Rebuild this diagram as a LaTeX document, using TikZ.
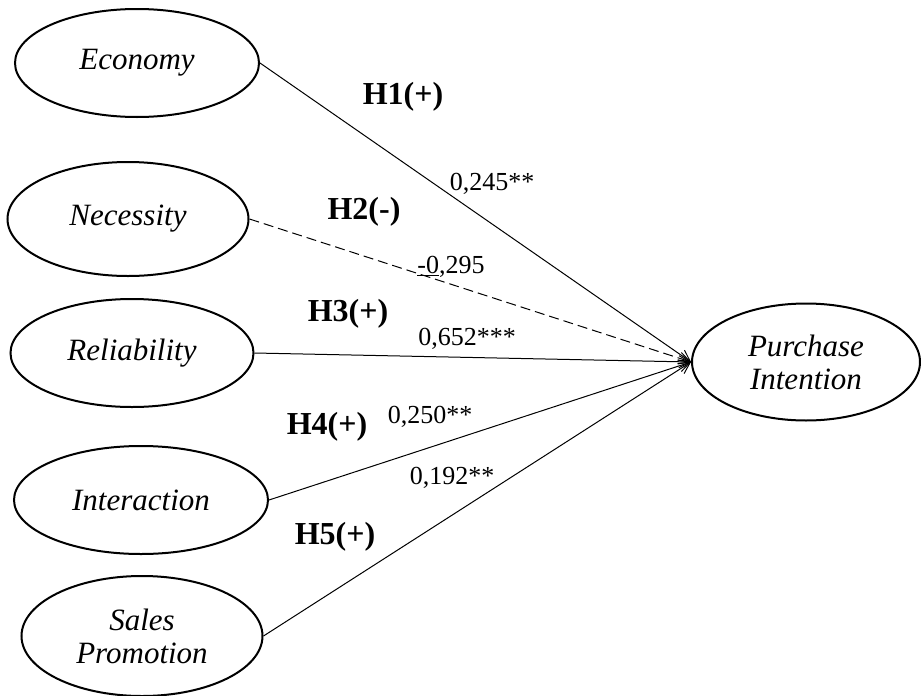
\documentclass[tikz,border=0pt]{standalone}
\usepackage{fontspec}
\setmainfont{Liberation Serif}
\usetikzlibrary{shapes.geometric,arrows.meta}
\tikzset{
  construct/.style={ellipse,draw,line width=2pt,inner sep=0pt,align=center,
    font=\fontsize{31}{33}\selectfont\itshape},
  hyp/.style={font=\fontsize{32}{34}\selectfont\bfseries},
  coef/.style={font=\fontsize{26}{28}\selectfont},
  path/.style={line width=1pt,-{Straight Barb[length=11pt,width=12pt,line width=1pt]}},
  negpath/.style={path,dash pattern=on 10pt off 5pt}
}
\begin{document}
\begin{tikzpicture}[x=1pt,y=-1pt]
\useasboundingbox (0,0) rectangle (921,696);
\node[construct,minimum width=244pt,minimum height=108pt] (eco) at (137,63) {Economy};
\node[construct,minimum width=241pt,minimum height=114pt] (nec) at (128,219) {Necessity};
\node[construct,minimum width=243pt,minimum height=108pt] (rel) at (132,353) {Reliability};
\node[construct,minimum width=254pt,minimum height=108pt] (int) at (141,500) {Interaction};
\node[construct,minimum width=241pt,minimum height=120pt] (sal) at (142,636) {Sales\\Promotion};
\node[construct,minimum width=228pt,minimum height=117pt] (pi) at (806,362) {Purchase\\Intention};

\draw[path] (eco.east) -- (pi.west);
\draw[negpath] (nec.east) -- (pi.west);
\draw[path] (rel.east) -- (pi.west);
\draw[path] (int.east) -- (pi.west);
\draw[path] (sal.east) -- (pi.west);

\node[hyp] (h1) at (403,97) {H1(+)};
\node[coef] (c1) at (492,184) {0,245**};
\node[hyp] (h2) at (364,212) {H2(-)};
\node[coef] (c2) at (451,267) {\underline{-0},295};
\node[hyp] (h3) at (348,314) {H3(+)};
\node[coef] (c3) at (467,339) {0,652***};
\node[hyp] (h4) at (327,427) {H4(+)};
\node[coef] (c4) at (430,417) {0,250**};
\node[coef] (c5) at (452,478) {0,192**};
\node[hyp] (h5) at (335,537) {H5(+)};
\end{tikzpicture}
\end{document}
